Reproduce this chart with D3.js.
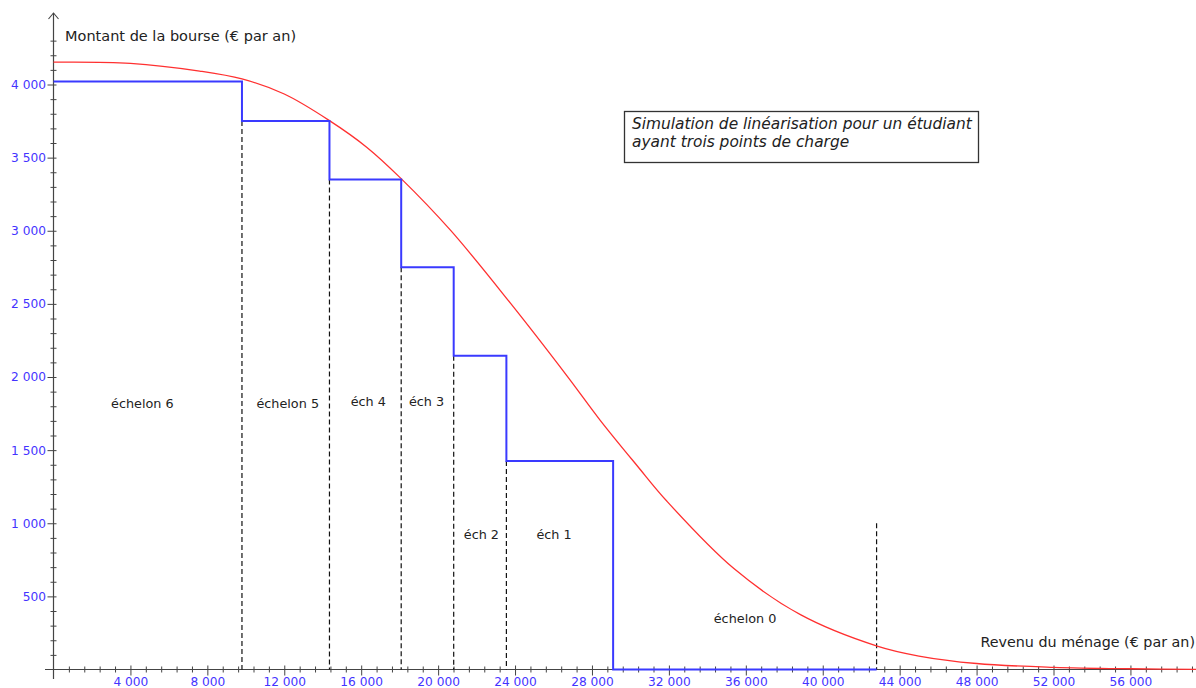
<!DOCTYPE html>
<html>
<head>
<meta charset="utf-8">
<script src="https://cdn.jsdelivr.net/npm/d3@7"></script>
<style>
html,body{margin:0;padding:0;background:#fff;}
svg{display:block;font-family:"DejaVu Sans",Verdana,sans-serif;}
</style>
</head>
<body>
<svg id="chart" width="1196" height="688"></svg>
<script>
// ---- data ----
const stepBounds  = [0, 9800, 14350, 18080, 20810, 23550, 29100, 42800];
const stepAmounts = [4020, 3750, 3350, 2750, 2145, 1425, 0];
const dashIncome  = [9800, 14350, 18080, 20810, 23550, 42800];
const dashTop     = [3750, 3350, 2750, 2145, 1425, 1000];
const curveIncome = [0, 4000, 7600, 9800, 12000, 14330, 16300, 18050, 20640, 23760, 26700, 28440, 30350, 31900, 35380, 38840, 42830, 45000, 48000, 52000, 56000, 60000];
const curveAmount = [4153, 4145, 4092, 4038, 3935, 3755, 3570, 3360, 3004, 2505, 2008, 1702, 1393, 1150, 690, 375, 160, 92, 41, 15, 5, 1];
const xTicks = [4000, 8000, 12000, 16000, 20000, 24000, 28000, 32000, 36000, 40000, 44000, 48000, 52000, 56000];
const yTicks = [500, 1000, 1500, 2000, 2500, 3000, 3500, 4000];
const zoneLabels = ["échelon 6", "échelon 5", "éch 4", "éch 3", "éch 2", "éch 1", "échelon 0"];
const zoneLabelIncome = [4620, 12180, 16370, 19400, 22250, 26030, 35960];
const zoneLabelAmount = [1790, 1790, 1805, 1805, 890, 890, 315];
const yTitle = "Montant de la bourse (€ par an)";
const xTitle = "Revenu du ménage (€ par an)";
const noteLines = ["Simulation de linéarisation pour un étudiant", "ayant trois points de charge"];

// ---- scales ----
const svg = d3.select("#chart");
svg.append("rect").attr("width", 1196).attr("height", 688).attr("fill", "#fff");
const x = d3.scaleLinear().domain([0, 60000]).range([53.5, 53.5 + 60000 * 0.019231]);
const y = d3.scaleLinear().domain([0, 4000]).range([669.5, 84.5]);
const fr = d3.formatLocale({decimal: ",", thousands: " ", grouping: [3], currency: ["", " €"]});
const fmt = fr.format(",d");
const axisColor = "#444";
const labelColor = "#4433ff";

// ---- x axis ----
const x0 = x(0), y0 = y(0);
svg.append("line").attr("x1", 45).attr("x2", 1196).attr("y1", y0).attr("y2", y0)
  .attr("stroke", axisColor).attr("stroke-width", 1.2);
const xMinor = d3.range(800, 60001, 800).filter(v => v % 4000 !== 0);
const gxm = svg.append("g").attr("transform", `translate(0,${y0})`)
  .call(d3.axisBottom(x).tickValues(xMinor).tickSize(3).tickFormat(""));
gxm.select(".domain").remove();
gxm.selectAll(".tick line").attr("y1", -3).attr("stroke", axisColor);
const gx = svg.append("g").attr("transform", `translate(0,${y0})`)
  .call(d3.axisBottom(x).tickValues(xTicks).tickSize(6).tickPadding(1.5).tickFormat(fmt));
gx.select(".domain").remove();
gx.selectAll(".tick line").attr("y1", -4).attr("stroke", axisColor);
gx.selectAll(".tick text").attr("fill", labelColor).attr("font-size", 12.2)
  .attr("font-family", "DejaVu Sans, Verdana, sans-serif");

// ---- y axis ----
svg.append("line").attr("x1", x0).attr("x2", x0).attr("y1", 13).attr("y2", 679)
  .attr("stroke", axisColor).attr("stroke-width", 1.2);
svg.append("path").attr("d", `M${x0 - 5},${19} L${x0},${13} L${x0 + 5},${19}`)
  .attr("fill", "none").attr("stroke", axisColor).attr("stroke-width", 1.1);
const yMinor = d3.range(100, 4301, 100).filter(v => v % 500 !== 0);
const gym = svg.append("g").attr("transform", `translate(${x0},0)`)
  .call(d3.axisLeft(y).tickValues(yMinor).tickSize(3).tickFormat(""));
gym.select(".domain").remove();
gym.selectAll(".tick line").attr("x1", 3).attr("stroke", axisColor);
const gy = svg.append("g").attr("transform", `translate(${x0},0)`)
  .call(d3.axisLeft(y).tickValues(yTicks).tickSize(6).tickPadding(1.5).tickFormat(fmt));
gy.select(".domain").remove();
gy.selectAll(".tick line").attr("x1", 3).attr("stroke", axisColor);
gy.selectAll(".tick text").attr("fill", labelColor).attr("font-size", 12.2)
  .attr("font-family", "DejaVu Sans, Verdana, sans-serif");

// ---- dashed lines ----
svg.append("g").selectAll("line").data(dashIncome).join("line")
  .attr("x1", d => x(d)).attr("x2", d => x(d))
  .attr("y1", (d, i) => y(dashTop[i])).attr("y2", y0)
  .attr("stroke", "#111").attr("stroke-width", 1.2).attr("stroke-dasharray", "5,3");

// ---- red curve ----
const curvePts = curveIncome.map((v, i) => [v, curveAmount[i]]);
svg.append("path").datum(curvePts)
  .attr("d", d3.line().x(d => x(d[0])).y(d => y(d[1])).curve(d3.curveCatmullRom.alpha(0.5)))
  .attr("fill", "none").attr("stroke", "#ff3030").attr("stroke-width", 1.3);

// ---- blue step function ----
const stepPts = [];
stepAmounts.forEach((a, i) => { stepPts.push([stepBounds[i], a]); stepPts.push([stepBounds[i + 1], a]); });
svg.append("path").datum(stepPts)
  .attr("d", d3.line().x(d => x(d[0])).y(d => y(d[1])))
  .attr("fill", "none").attr("stroke", "#3a3aff").attr("stroke-width", 2);

// ---- zone labels ----
svg.append("g").selectAll("text").data(zoneLabels).join("text")
  .attr("x", (d, i) => x(zoneLabelIncome[i])).attr("y", (d, i) => y(zoneLabelAmount[i]))
  .attr("text-anchor", "middle").attr("font-size", 12.8).attr("fill", "#222").text(d => d);

// ---- axis titles ----
svg.append("text").attr("x", 65).attr("y", 41).attr("font-size", 14.5).attr("fill", "#222").text(yTitle);
svg.append("text").attr("x", 1195).attr("y", 647).attr("text-anchor", "end")
  .attr("font-size", 14.3).attr("fill", "#222").text(xTitle);

// ---- note box ----
svg.append("rect").attr("x", 624.5).attr("y", 111.5).attr("width", 354).attr("height", 51)
  .attr("fill", "#fff").attr("stroke", "#333").attr("stroke-width", 1.3);
svg.append("g").selectAll("text").data(noteLines).join("text")
  .attr("x", 632).attr("y", (d, i) => 129 + i * 18.3)
  .attr("font-size", 15.4).attr("font-style", "italic").attr("fill", "#222").text(d => d);
</script>
</body>
</html>
